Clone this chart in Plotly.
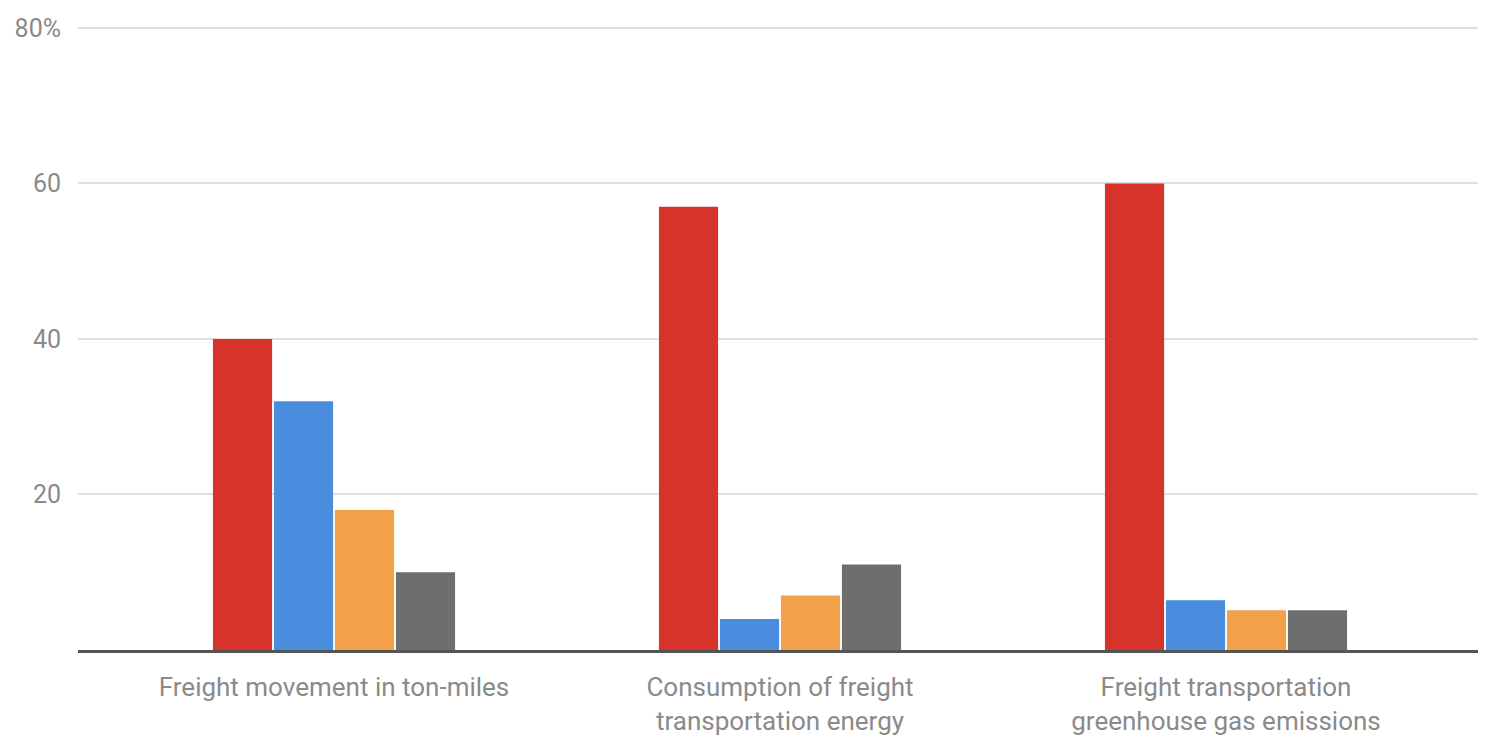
import plotly.graph_objects as go

categories = [
    "Freight movement in ton-miles",
    "Consumption of freight<br>transportation energy",
    "Freight transportation<br>greenhouse gas emissions",
]
series_names = ["Trucks", "Rail", "Water", "Other"]
values_red = [40, 57, 60]
values_blue = [32, 4, 6.4]
values_orange = [18, 7, 5.1]
values_gray = [10, 11, 5.1]
colors = ["#d6342a", "#4a8cdd", "#f2a04a", "#6e6e6e"]
y_tickvals = [20, 40, 60, 80]
y_ticktext = ["20", "40", "60", "80%"]

fig = go.Figure()
for name, vals, col in zip(series_names, [values_red, values_blue, values_orange, values_gray], colors):
    fig.add_trace(go.Bar(x=categories, y=vals, name=name, marker=dict(color=col, line=dict(width=0))))

FONT = "Roboto, Arial, sans-serif"
fig.update_layout(
    width=1491, height=745,
    margin=dict(l=78, r=13, t=26, b=95),
    paper_bgcolor="white", plot_bgcolor="white",
    barmode="group", bargap=0.453, bargroupgap=0.03,
    showlegend=False,
    font=dict(family=FONT, color="#8a8a8a", size=24),
)
fig.update_xaxes(
    range=[-0.574, 2.565], automargin=False,
    showline=True, linecolor="#555555", linewidth=3,
    showgrid=False, ticks="", ticklabelstandoff=12,
    tickfont=dict(size=26, color="#8a8a8a"),
)
fig.update_yaxes(
    range=[0, 80.25], tickvals=y_tickvals, ticktext=y_ticktext, automargin=False,
    showgrid=True, gridcolor="#e0e0e0", gridwidth=2,
    zeroline=False, ticks="", ticklabelstandoff=16,
    tickfont=dict(size=25, color="#8a8a8a"),
)
fig.write_html("out.html")
